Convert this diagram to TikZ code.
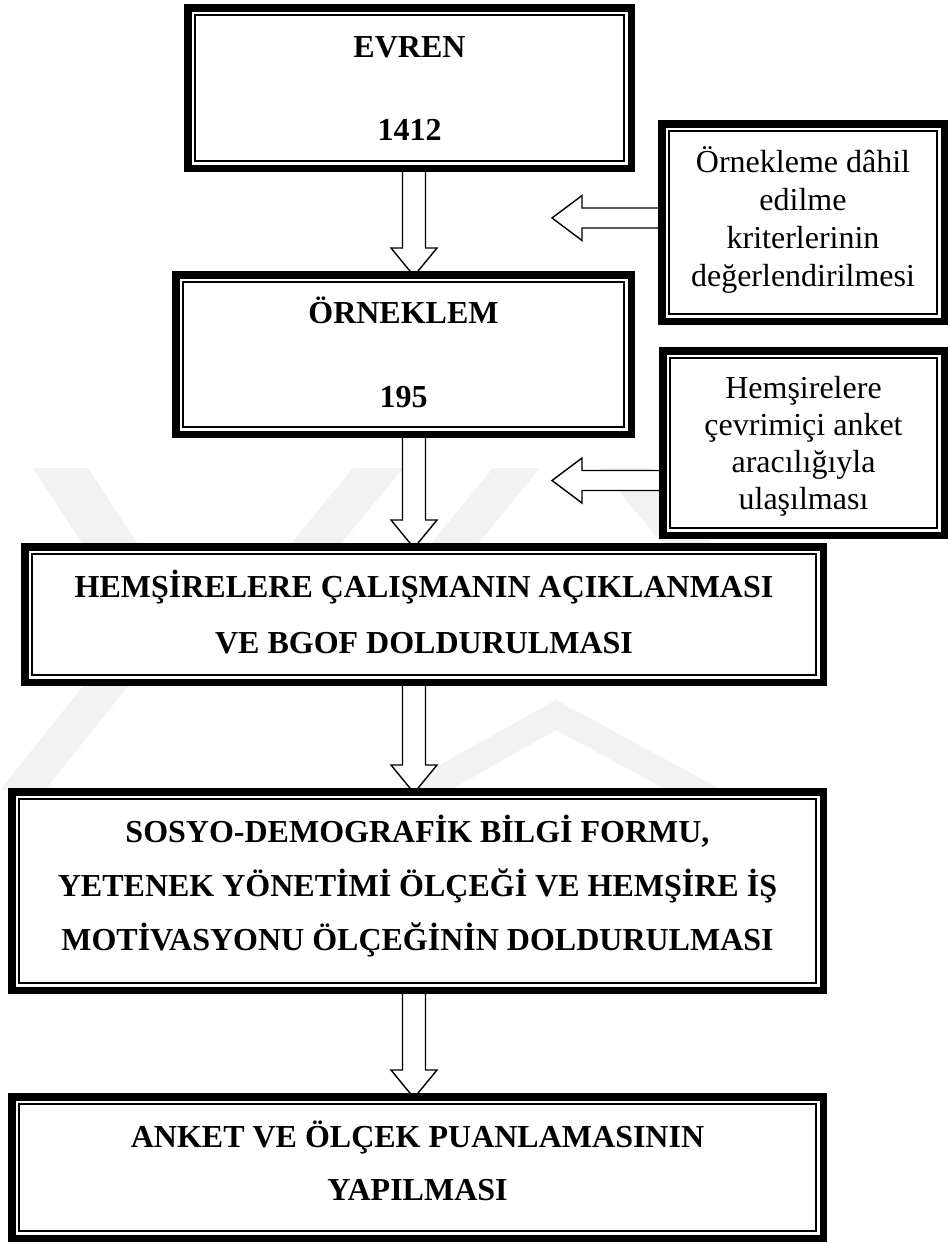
\documentclass[tikz,border=0pt]{standalone}
\usepackage{fontspec}
\setmainfont{Liberation Serif}
\usetikzlibrary{calc}
\pgfdeclarelayer{wm}
\pgfdeclarelayer{bg}
\pgfsetlayers{wm,bg,main}
\newcommand{\mydownarrow}[2]{%
  \path (ax |- #1.south) coordinate (p) (ax |- #2.north) coordinate (q);
  \draw[blockarrow] ($(p)+(-11.5,-5)$) -- ($(q)+(-11.5,-23)$) -- ($(q)+(-23,-23)$) -- ($(q)+(0,5)$)
    -- ($(q)+(23,-23)$) -- ($(q)+(11.5,-23)$) -- ($(p)+(11.5,-5)$) -- cycle;}
\newcommand{\myleftarrow}[2]{%
  \path (#1.west |- #2) coordinate (p);
  \draw[blockarrow] ($(p)+(5,-10)$) -- ($(#2)+(30,-10)$) -- ($(#2)+(30,-22.5)$) -- (#2)
    -- ($(#2)+(30,22.5)$) -- ($(#2)+(30,10)$) -- ($(p)+(5,10)$) -- cycle;}
\begin{document}
\begin{tikzpicture}[x=1pt,y=-1pt,
  mainbox/.style={draw, line width=7.5pt, fill=white, inner sep=0pt, align=center},
  sidebox/.style={draw, line width=7.5pt, fill=white, inner sep=0pt, align=center},
  innerline/.style={line width=2.2pt},
  blockarrow/.style={draw, fill=white, line width=1.4pt},
  wmband/.style={fill=black!5, draw=none}]
\useasboundingbox (0,0) rectangle (948,1242);

% boxes
\node[mainbox, font=\bfseries\fontsize{32}{83}\selectfont, minimum width=443.5pt, minimum height=160.5pt,
  text height=104pt, text depth=0pt]
  (evren) at (409.5,88) {EVREN\\1412};
\node[mainbox, font=\bfseries\fontsize{32}{84}\selectfont, minimum width=455.5pt, minimum height=159.5pt,
  text height=105pt, text depth=0pt]
  (orneklem) at (403.5,354.5) {ÖRNEKLEM\\195};
\node[mainbox, font=\bfseries\fontsize{32}{56}\selectfont, minimum width=798.5pt, minimum height=135.5pt,
  text height=77pt, text depth=0pt]
  (hem) at (424,614.5) {HEMŞİRELERE ÇALIŞMANIN AÇIKLANMASI\\VE BGOF DOLDURULMASI};
\node[mainbox, font=\bfseries\fontsize{32}{54}\selectfont, minimum width=811.5pt, minimum height=198.5pt,
  text height=129pt, text depth=10pt]
  (sosyo) at (417.5,891) {SOSYO-DEMOGRAFİK BİLGİ FORMU,\\YETENEK YÖNETİMİ ÖLÇEĞİ VE HEMŞİRE İŞ\\MOTİVASYONU ÖLÇEĞİNİN DOLDURULMASI};
\node[mainbox, font=\bfseries\fontsize{32}{53}\selectfont, minimum width=811.5pt, minimum height=141.5pt,
  text height=74pt, text depth=8pt]
  (anket) at (417.5,1167.5) {ANKET VE ÖLÇEK PUANLAMASININ\\YAPILMASI};
\node[sidebox, font=\fontsize{32}{38}\selectfont, minimum width=282.5pt, minimum height=197.5pt,
  text height=135pt, text depth=8pt]
  (side1) at (803,222.5) {Örnekleme dâhil\\edilme\\kriterlerinin\\değerlendirilmesi};
\node[sidebox, font=\fontsize{32}{37}\selectfont, minimum width=281.5pt, minimum height=184.5pt,
  text height=132pt, text depth=0pt]
  (side2) at (803.5,443) {Hemşirelere\\çevrimiçi anket\\aracılığıyla\\ulaşılması};

\foreach \n in {evren,orneklem,hem,sosyo,anket,side1,side2}
  \draw[innerline] ([shift={(11,11)}]\n.north west) rectangle ([shift={(-11,-11)}]\n.south east);

% connectors
\coordinate (ax) at (414,0);
\coordinate (t1) at (552,218);
\coordinate (t2) at (552,480.5);
\begin{pgfonlayer}{bg}
  \mydownarrow{evren}{orneklem}
  \mydownarrow{orneklem}{hem}
  \mydownarrow{hem}{sosyo}
  \mydownarrow{sosyo}{anket}
  \myleftarrow{side1}{t1}
  \myleftarrow{side2}{t2}
\end{pgfonlayer}

% faint watermark
\begin{pgfonlayer}{wm}
  \fill[wmband] (33,468) -- (88,468) -- (200,640) -- (145,640) -- cycle;
  \fill[wmband] (353,468) -- (403,468) -- (262,640) -- (212,640) -- cycle;
  \fill[wmband] (493,468) -- (540,468) -- (399,640) -- (352,640) -- cycle;
  \fill[wmband] (600,468) -- (650,468) -- (791,640) -- (741,640) -- cycle;
  \fill[wmband] (0,790) -- (45,790) -- (165,640) -- (120,640) -- cycle;
  \fill[wmband] (395,790) -- (556,700) -- (722,790) -- (667,790) -- (556,730) -- (450,790) -- cycle;
\end{pgfonlayer}
\end{tikzpicture}
\end{document}
